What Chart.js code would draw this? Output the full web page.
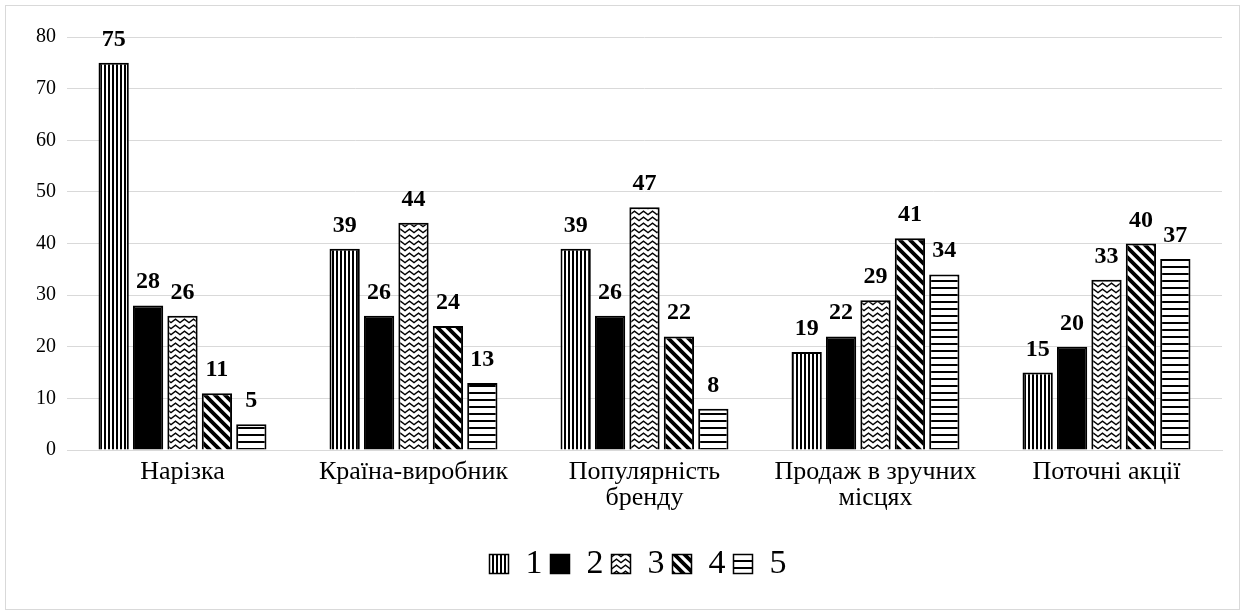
<!DOCTYPE html>
<html>
<head>
<meta charset="utf-8">
<script src="https://cdn.jsdelivr.net/npm/chart.js@4/dist/chart.umd.min.js"></script>
<style>
  html, body { margin: 0; padding: 0; background: #ffffff; }
  #wrap { width: 1245px; height: 615px; position: relative; }
</style>
</head>
<body>
<div id="wrap"><canvas id="chart" width="1245" height="615"></canvas></div>
<script>
// Categories (multi-line labels as arrays)
const categories = [
  'Нарізка',
  'Країна-виробник',
  ['Популярність', 'бренду'],
  ['Продаж в зручних', 'місцях'],
  'Поточні акції'
];

// Series values by rating group
const series1 = [75, 39, 39, 19, 15];
const series2 = [28, 26, 26, 22, 20];
const series3 = [26, 44, 47, 29, 33];
const series4 = [11, 24, 22, 41, 40];
const series5 = [5, 13, 8, 34, 37];

const seriesNames = ['1', '2', '3', '4', '5'];
const yTicks = [0, 10, 20, 30, 40, 50, 60, 70, 80];

const SERIF = '"Liberation Serif", "Times New Roman", serif';

// ---- fill patterns ----
function makeTile(w, h, draw) {
  const c = document.createElement('canvas');
  c.width = w; c.height = h;
  const g = c.getContext('2d');
  g.fillStyle = '#fff';
  g.fillRect(0, 0, w, h);
  g.fillStyle = '#000';
  g.strokeStyle = '#000';
  draw(g, w, h);
  return g.createPattern(c, 'repeat');
}

const patVertical = makeTile(4, 4, (g) => { g.fillRect(0, 0, 2, 4); });
const patWave = makeTile(9, 6, (g) => {
  g.lineWidth = 1.4;
  g.beginPath();
  g.moveTo(-1, 5.3);
  g.lineTo(4.5, 1.2);
  g.lineTo(10, 5.3);
  g.stroke();
});
const patDiag = makeTile(10, 10, (g) => {
  g.lineWidth = 3.8;
  g.beginPath();
  g.moveTo(-2, -2); g.lineTo(12, 12);
  g.moveTo(-12, -2); g.lineTo(2, 12);
  g.moveTo(8, -2); g.lineTo(22, 12);
  g.stroke();
});
const patHoriz = makeTile(4, 7, (g) => { g.fillRect(0, 0, 4, 2); });

const fills = [patVertical, '#000000', patWave, patDiag, patHoriz];
const values = [series1, series2, series3, series4, series5];

// ---- plugins ----
const framePlugin = {
  id: 'frame',
  beforeDraw(chart) {
    const ctx = chart.ctx;
    ctx.save();
    ctx.strokeStyle = '#d9d9d9';
    ctx.lineWidth = 1;
    ctx.strokeRect(5.5, 5.5, 1234, 604);
    ctx.restore();
  }
};

// centre the legend under the full canvas width rather than the padded area
const legendShift = {
  id: 'legendShift',
  afterLayout(chart) {
    if (chart.legend) {
      chart.legend.left += 27;
      chart.legend.right += 27;
    }
  }
};

const valueLabels = {
  id: 'valueLabels',
  afterDatasetsDraw(chart) {
    const ctx = chart.ctx;
    ctx.save();
    ctx.font = 'bold 24px ' + SERIF;
    ctx.fillStyle = '#000';
    ctx.textAlign = 'center';
    ctx.textBaseline = 'alphabetic';
    chart.data.datasets.forEach((ds, i) => {
      const meta = chart.getDatasetMeta(i);
      meta.data.forEach((bar, j) => {
        ctx.fillText(String(ds.data[j]), bar.x, bar.y - 17);
      });
    });
    ctx.restore();
  }
};

new Chart(document.getElementById('chart'), {
  type: 'bar',
  data: {
    labels: categories,
    datasets: seriesNames.map((name, i) => ({
      label: name,
      data: values[i],
      backgroundColor: fills[i],
      borderColor: '#000',
      borderWidth: 2,
      categoryPercentage: 0.745,
      barPercentage: 0.88
    }))
  },
  options: {
    responsive: false,
    animation: false,
    devicePixelRatio: 1,
    layout: { padding: { left: 0, right: 23, top: 37, bottom: 24 } },
    plugins: {
      legend: {
        position: 'bottom',
        labels: {
          color: '#000',
          font: { family: SERIF, size: 34 },
          boxWidth: 19,
          boxHeight: 19,
          padding: 8,
          generateLabels(chart) {
            return chart.data.datasets.map((ds, i) => ({
              text: ds.label,
              fillStyle: ds.backgroundColor,
              strokeStyle: '#000',
              lineWidth: 1.5,
              datasetIndex: i,
              hidden: false,
              fontColor: '#000'
            }));
          }
        }
      },
      tooltip: { enabled: false }
    },
    scales: {
      x: {
        grid: { display: false, drawTicks: false },
        border: { color: '#d9d9d9', width: 1 },
        ticks: {
          color: '#000',
          font: { family: SERIF, size: 26, lineHeight: 1.0 },
          padding: 9,
          maxRotation: 0,
          autoSkip: false
        },
        afterFit(scale) { scale.height = 89; }
      },
      y: {
        min: 0,
        max: 80,
        afterBuildTicks(scale) { scale.ticks = yTicks.map(v => ({ value: v })); },
        grid: { color: '#d9d9d9', lineWidth: 1, drawTicks: false },
        border: { display: false },
        ticks: {
          color: '#000',
          font: { family: SERIF, size: 20 },
          padding: 11
        },
        afterFit(scale) { scale.width = 67; }
      }
    }
  },
  plugins: [framePlugin, legendShift, valueLabels]
});
</script>
</body>
</html>
